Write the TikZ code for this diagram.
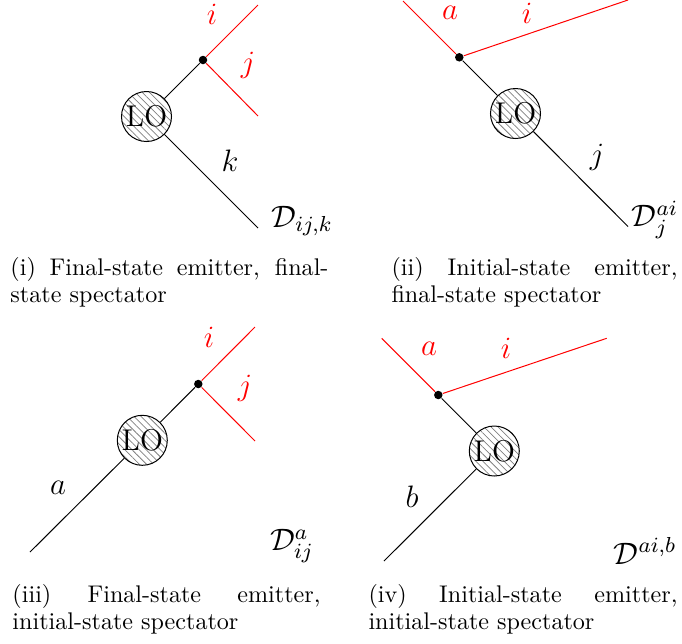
\RequirePackage{fix-cm}
\documentclass[tikz,border=0pt]{standalone}
\usepackage{fontspec}
\usetikzlibrary{patterns.meta}
\begin{document}
\begin{tikzpicture}[x=0.4pt,y=-0.4pt,
  blob/.style={circle, draw, line width=0.4pt, minimum size=20pt, inner sep=0pt,
    pattern={Lines[angle=-45,distance=2pt,line width=0.3pt]}, pattern color=gray,
    font=\fontsize{12}{14}\selectfont},
  vert/.style={circle, fill, inner sep=0pt, minimum size=3.4pt},
  leg/.style={draw, line width=0.4pt},
  emit/.style={draw=red, line width=0.4pt},
  lbl/.style={font=\fontsize{12.4}{14}\selectfont, inner sep=0pt},
  rlbl/.style={lbl, text=red},
  captext/.style={anchor=north west, inner sep=0pt, align=justify,
    font=\fontsize{9.64}{10.8}\selectfont}]
\useasboundingbox (0,0) rectangle (682,643);

% (i)
\node[blob] (lo1) at (146.5,116.5) {LO};
\node[vert] (v1) at (203,60) {};
\coordinate (i1) at (258,5);
\coordinate (j1) at (258,116);
\coordinate (k1) at (258,228);
\draw[leg] (lo1) -- (v1);
\draw[leg] (lo1) -- (k1);
\draw[emit] (v1) -- (i1);
\draw[emit] (v1) -- (j1);
\node[rlbl] (li1) at (212,14) {$i$};
\node[rlbl] (lj1) at (248,65) {$j$};
\node[lbl] (lk1) at (230,161) {$k$};
\node[lbl] (ld1) at (302,221) {$\mathcal{D}_{ij,k}$};
\node[captext, text width=127.2pt] (c1) at (10,257) {(i) Final-state emitter, final-state spectator};

% (ii)
\node[blob] (lo2) at (515.5,113.5) {LO};
\node[vert] (v2) at (459.3,57.3) {};
\coordinate (a2) at (403,1);
\coordinate (i2) at (628,0);
\coordinate (j2) at (628,226.5);
\draw[leg] (v2) -- (lo2);
\draw[leg] (lo2) -- (j2);
\draw[emit] (a2) -- (v2);
\draw[emit] (v2) -- (i2);
\node[rlbl] (la2) at (450,13) {$a$};
\node[rlbl] (li2) at (527,13) {$i$};
\node[lbl] (lj2) at (597,157) {$j$};
\node[lbl] (ld2) at (655,220) {$\mathcal{D}^{ai}_{j}$};
\node[captext, text width=114.4pt] (c2) at (391,257) {(ii) Initial-state emitter, final-state spectator};

% (iii)
\node[blob] (lo3) at (142.3,440.3) {LO};
\node[vert] (v3) at (198.3,384) {};
\coordinate (i3) at (255,327);
\coordinate (j3) at (255,441);
\coordinate (a3) at (30,552);
\draw[leg] (lo3) -- (v3);
\draw[leg] (a3) -- (lo3);
\draw[emit] (v3) -- (i3);
\draw[emit] (v3) -- (j3);
\node[rlbl] (li3) at (209,337) {$i$};
\node[rlbl] (lj3) at (245,388) {$j$};
\node[lbl] (la3) at (58,488) {$a$};
\node[lbl] (ld3) at (292,546) {$\mathcal{D}^{a}_{ij}$};
\node[captext, text width=123.2pt] (c3) at (12,584) {(iii) Final-state emitter, initial-state spectator};

% (iv)
\node[blob] (lo4) at (494.3,451) {LO};
\node[vert] (v4) at (438.3,395) {};
\coordinate (a4) at (381.7,338.3);
\coordinate (i4) at (606.7,338.3);
\coordinate (b4) at (384,561);
\draw[leg] (v4) -- (lo4);
\draw[leg] (b4) -- (lo4);
\draw[emit] (a4) -- (v4);
\draw[emit] (v4) -- (i4);
\node[rlbl] (la4) at (429,349) {$a$};
\node[rlbl] (li4) at (506,348) {$i$};
\node[lbl] (lb4) at (412,497) {$b$};
\node[lbl] (ld4) at (645,551) {$\mathcal{D}^{ai,b}$};
\node[captext, text width=123.6pt] (c4) at (368,584) {(iv) Initial-state emitter, initial-state spectator};
\end{tikzpicture}
\end{document}
